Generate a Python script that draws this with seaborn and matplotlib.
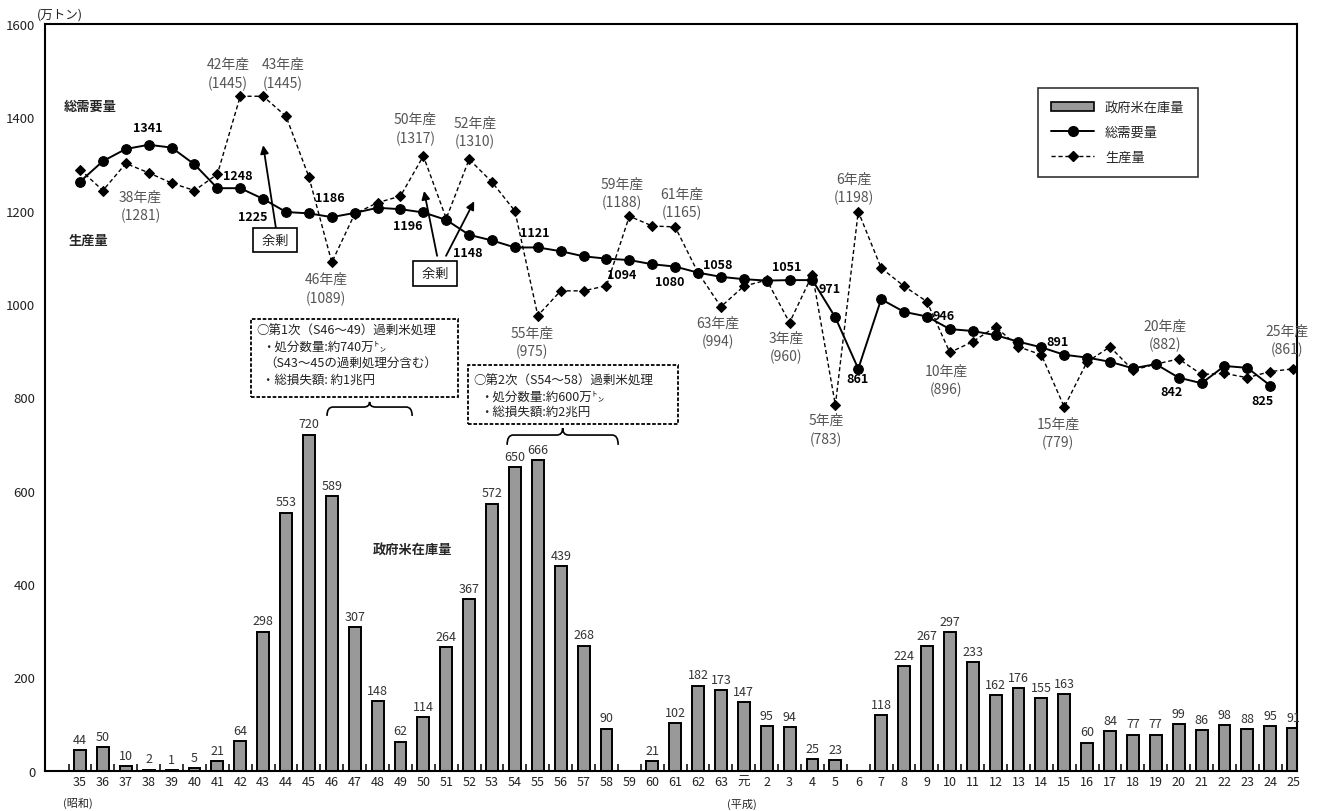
import numpy as np
import pandas as pd
import matplotlib.pyplot as plt
import seaborn as sns
from matplotlib.patches import Patch, Rectangle, PathPatch
from matplotlib.lines import Line2D
from matplotlib.path import Path

# 年次（昭和35年〜昭和63年, 平成元年〜平成25年）
years = [str(y) for y in range(35, 64)] + ["元"] + [str(y) for y in range(2, 26)]

# 政府米在庫量（万トン）
stock = [44, 50, 10, 2, 1, 5, 21, 64, 298, 553,
         720, 589, 307, 148, 62, 114, 264, 367, 572, 650,
         666, 439, 268, 90, np.nan, 21, 102, 182, 173,
         147, 95, 94, 25, 23, np.nan, 118, 224, 267, 297, 233,
         162, 176, 155, 163, 60, 84, 77, 77, 99, 86, 98, 88, 95, 91]

# 総需要量（万トン）
demand = [1262, 1306, 1332, 1341, 1335, 1299, 1248, 1248, 1225, 1197,
          1194, 1186, 1195, 1206, 1203, 1196, 1180, 1148, 1136, 1121,
          1121, 1113, 1102, 1097, 1094, 1085, 1080, 1067, 1058,
          1053, 1050, 1051, 1051, 971, 861, 1010, 983, 973, 946, 942,
          933, 919, 907, 891, 885, 876, 862, 871, 842, 830, 867, 863, 825, np.nan]

# 生産量（万トン）
supply = [1288, 1243, 1301, 1281, 1259, 1243, 1278, 1445, 1445, 1402,
          1272, 1089, 1193, 1217, 1231, 1317, 1183, 1310, 1261, 1199,
          975, 1028, 1028, 1039, 1188, 1167, 1165, 1067, 994,
          1038, 1051, 960, 1063, 783, 1198, 1077, 1038, 1005, 896, 919,
          951, 908, 891, 779, 876, 908, 858, 871, 882, 849, 851, 842, 855, 861]

# 生産量の注記（ラベル, x位置, y位置）
supply_notes = [("38年産\n(1281)", 2.64, 1210), ("42年産\n(1445)", 6.47, 1494),
                ("43年産\n(1445)", 8.87, 1494), ("46年産\n(1089)", 10.75, 1033),
                ("50年産\n(1317)", 14.66, 1376), ("52年産\n(1310)", 17.25, 1368),
                ("55年産\n(975)", 19.75, 919), ("59年産\n(1188)", 23.68, 1238),
                ("61年産\n(1165)", 26.30, 1216), ("63年産\n(994)", 27.88, 940),
                ("3年産\n(960)", 30.85, 907), ("5年産\n(783)", 32.59, 731),
                ("6年産\n(1198)", 33.82, 1249), ("10年産\n(896)", 37.84, 837),
                ("15年産\n(779)", 42.73, 724), ("20年産\n(882)", 47.41, 934),
                ("25年産\n(861)", 52.74, 923)]

# 総需要量の注記
demand_notes = [("1341", 2.95, 1377), ("1248", 6.90, 1276), ("1225", 7.56, 1188),
                ("1186", 10.92, 1229), ("1196", 14.33, 1167), ("1148", 16.95, 1111),
                ("1121", 19.88, 1154), ("1094", 23.68, 1062), ("1080", 25.78, 1047),
                ("1058", 27.88, 1085), ("1051", 30.89, 1081), ("971", 32.73, 1032),
                ("861", 33.95, 841), ("946", 37.71, 976), ("891", 42.69, 920),
                ("842", 47.67, 813), ("825", 51.65, 794)]

sns.set_theme(style="white")
plt.rcParams['font.family'] = ['Noto Sans CJK JP', 'DejaVu Sans']

fig = plt.figure(figsize=(13.2, 8.12), dpi=100)
ax = fig.add_axes([0.0341, 0.0498, 0.9485, 0.9195])

df = pd.DataFrame({"年": years, "在庫": stock})
sns.barplot(data=df, x="年", y="在庫", order=years, color="#999999", saturation=1,
            edgecolor="black", linewidth=1.4, width=0.52, errorbar=None, ax=ax)

pos = np.arange(len(years))
sns.lineplot(x=pos, y=demand, color="black", linewidth=1.4, marker="o", markersize=7,
             markeredgecolor="black", ax=ax)
sns.lineplot(x=pos, y=supply, color="black", linewidth=1.0, linestyle=(0, (3, 2)),
             marker="D", markersize=5.5, markeredgecolor="black", ax=ax)

for i, v in enumerate(stock):
    if not np.isnan(v):
        ax.annotate(f"{v:.0f}", (i, v), xytext=(0, 3), textcoords="offset points",
                    ha="center", va="bottom", fontsize=9, color="#333333")

for txt, x, y in supply_notes:
    ax.text(x, y, txt, ha="center", va="center", fontsize=10, color="#555555",
            linespacing=1.35)
for txt, x, y in demand_notes:
    ax.text(x, y, txt, ha="center", va="center", fontsize=9, fontweight="bold", color="black")

ax.text(0.44, 1424, "総需要量", ha="center", va="center", fontsize=9.5, fontweight="bold")
ax.text(0.35, 1137, "生産量", ha="center", va="center", fontsize=9.5, fontweight="bold")
ax.text(14.51, 473, "政府米在庫量", ha="center", va="center", fontsize=9.5, fontweight="bold")

# 余剰
box = dict(boxstyle="square,pad=0.45", fc="white", ec="black", lw=1.2)
ax.text(8.52, 1137, " 余剰 ", ha="center", va="center", fontsize=9.5, bbox=box, zorder=5)
ax.text(15.51, 1066, " 余剰 ", ha="center", va="center", fontsize=9.5, bbox=box, zorder=5)
arrow = dict(arrowstyle="-|>", color="black", lw=1.3, mutation_scale=12, shrinkA=0, shrinkB=0)
ax.annotate("", xy=(8.00, 1340), xytext=(8.56, 1162), arrowprops=arrow)
ax.annotate("", xy=(15.03, 1242), xytext=(15.60, 1103), arrowprops=arrow)
ax.annotate("", xy=(17.22, 1220), xytext=(15.99, 1103), arrowprops=arrow)

# 過剰米処理の囲み
ax.add_patch(Rectangle((7.47, 800), 9.05, 167, facecolor="white", edgecolor="black",
                       linestyle=(0, (2, 1)), linewidth=1.3, zorder=3))
ax.add_patch(Rectangle((16.95, 743), 9.18, 126, facecolor="white", edgecolor="black",
                       linestyle=(0, (2, 1)), linewidth=1.3, zorder=3))
note_kw = dict(ha="left", va="center", fontsize=9, color="#222222", zorder=4)
ax.text(7.69, 944, "○第1次（S46～49）過剰米処理", **note_kw)
ax.text(7.95, 910, "・処分数量:約740万㌧", **note_kw)
ax.text(8.04, 876, "（S43～45の過剰処理分含む）", **note_kw)
ax.text(7.95, 839, "・総損失額: 約1兆円", **note_kw)
ax.text(17.17, 837, "○第2次（S54～58）過剰米処理", **note_kw)
ax.text(17.48, 803, "・処分数量:約600万㌧", **note_kw)
ax.text(17.48, 771, "・総損失額:約2兆円", **note_kw)


def brace(x0, x1, y, drop, peak, dx):
    xm = (x0 + x1) / 2
    verts = [(x0, y - drop), (x0, y), (x0 + dx, y),
             (xm - dx, y), (xm, y), (xm, y + peak),
             (xm, y), (xm + dx, y),
             (x1 - dx, y), (x1, y), (x1, y - drop)]
    codes = [Path.MOVETO, Path.CURVE3, Path.CURVE3, Path.LINETO, Path.CURVE3, Path.CURVE3,
             Path.CURVE3, Path.CURVE3, Path.LINETO, Path.CURVE3, Path.CURVE3]
    ax.add_patch(PathPatch(Path(verts, codes), fill=False, edgecolor="black", lw=1.2))


brace(10.79, 14.51, 779, 19, 11, 0.26)
brace(18.66, 23.51, 719, 21, 15, 0.26)

# 軸
ax.set_xlim(-1.53, 53.17)
ax.set_ylim(0, 1600)
ax.set_yticks(range(0, 1601, 200))
ax.set_xlabel("")
ax.set_ylabel("")
ax.set_xticks(np.arange(-0.5, 53.5, 1), minor=True)
ax.tick_params(axis="y", direction="in", length=5, width=1, pad=7, labelsize=9.5,
               labelcolor="#222222")
ax.tick_params(axis="x", which="major", length=0, pad=3, labelsize=9, labelcolor="#222222")
ax.tick_params(axis="x", which="minor", direction="in", length=5, width=1.3, bottom=True)
for s in ax.spines.values():
    s.set_color("black")
    s.set_linewidth(1.5)

fig.text(60 / 1320, 1 - 15 / 812, "(万トン)", ha="center", va="center", fontsize=9)
fig.text(78 / 1320, 1 - 803 / 812, "(昭和)", ha="center", va="center", fontsize=8)
fig.text(742 / 1320, 1 - 804 / 812, "(平成)", ha="center", va="center", fontsize=8)

handles = [Patch(facecolor="#999999", edgecolor="black", linewidth=1.2),
           Line2D([], [], color="black", lw=1.4, marker="o", markersize=7),
           Line2D([], [], color="black", lw=1.0, ls=(0, (3, 2)), marker="D", markersize=5.5)]
leg = ax.legend(handles, ["政府米在庫量", "総需要量", "生産量"], loc="upper left",
                bbox_to_anchor=(1031 / 1320, 1 - 82 / 812), bbox_transform=fig.transFigure,
                frameon=True, fancybox=False, edgecolor="black", fontsize=9.5,
                handlelength=3.3, handletextpad=0.8, borderpad=1.0, labelspacing=0.9)
leg.get_frame().set_linewidth(1.2)

fig.savefig("out.png", dpi=100)
